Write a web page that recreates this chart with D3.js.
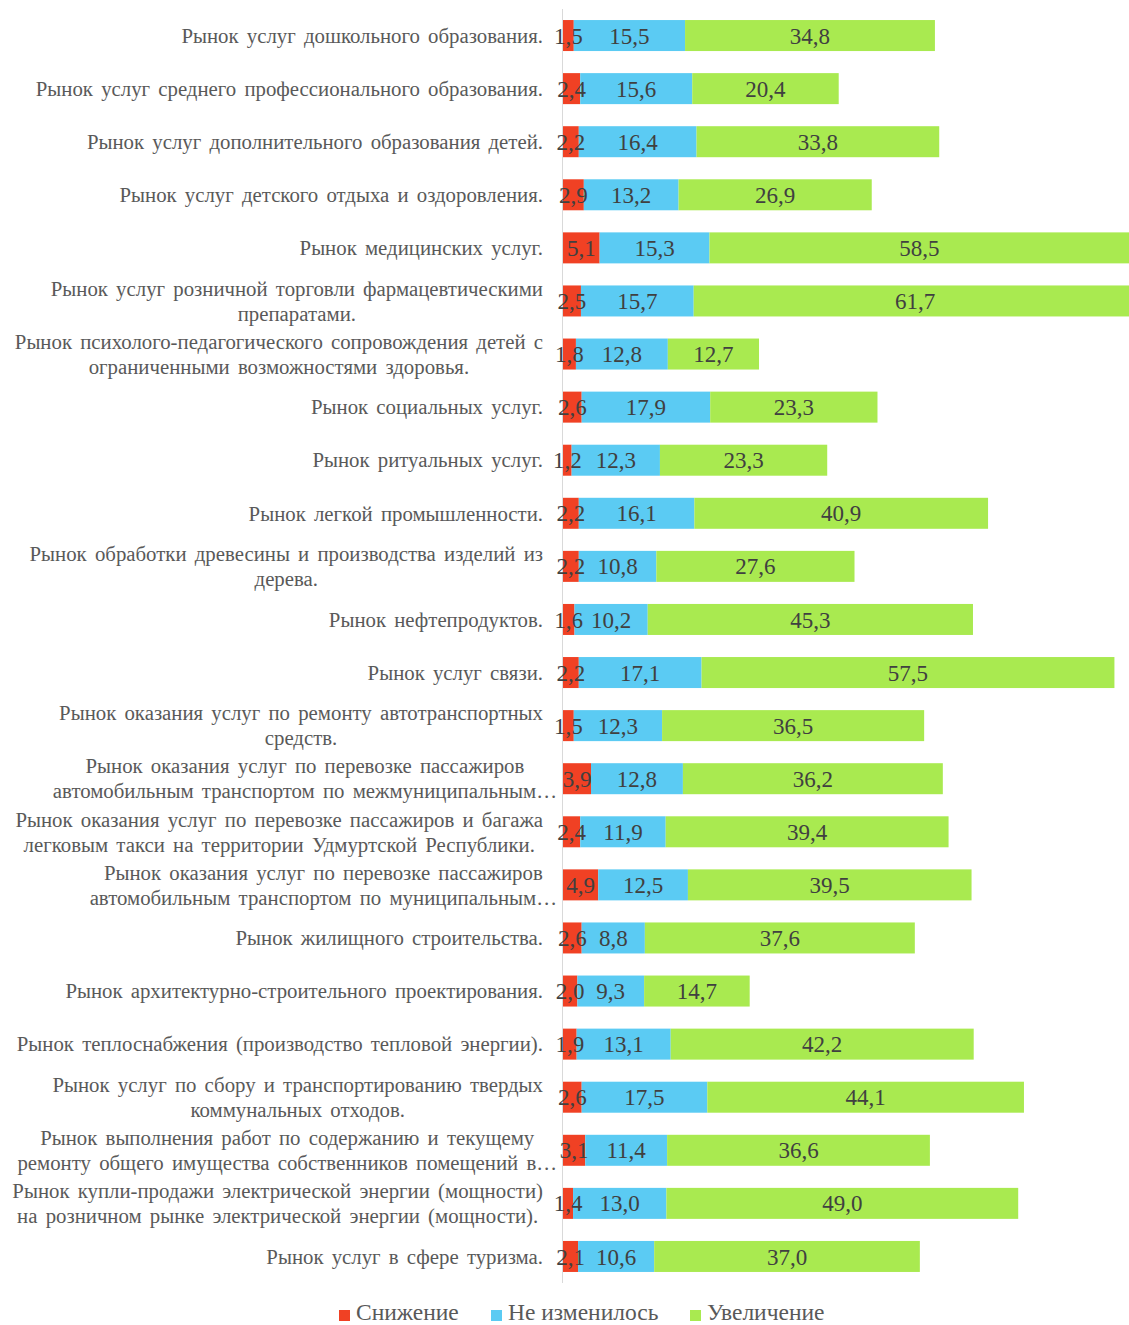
<!DOCTYPE html>
<html><head><meta charset="utf-8">
<script src="https://cdn.jsdelivr.net/npm/d3@7"></script>
<style>
html,body{margin:0;padding:0;background:#fff;}
svg{display:block;}
text{font-family:"Liberation Serif";}
</style></head>
<body>
<script>
const categories = [
  ["Рынок услуг дошкольного образования."],
  ["Рынок услуг среднего профессионального образования."],
  ["Рынок услуг дополнительного образования детей."],
  ["Рынок услуг детского отдыха и оздоровления."],
  ["Рынок медицинских услуг."],
  ["Рынок услуг розничной торговли фармацевтическими", "препаратами."],
  ["Рынок психолого-педагогического сопровождения детей с", "ограниченными возможностями здоровья."],
  ["Рынок социальных услуг."],
  ["Рынок ритуальных услуг."],
  ["Рынок легкой промышленности."],
  ["Рынок обработки древесины и производства изделий из", "дерева."],
  ["Рынок нефтепродуктов."],
  ["Рынок услуг связи."],
  ["Рынок оказания услуг по ремонту автотранспортных", "средств."],
  ["Рынок оказания услуг по перевозке пассажиров", "автомобильным транспортом по межмуниципальным…"],
  ["Рынок оказания услуг по перевозке пассажиров и багажа", "легковым такси на территории Удмуртской Республики."],
  ["Рынок оказания услуг по перевозке пассажиров", "автомобильным транспортом по муниципальным…"],
  ["Рынок жилищного строительства."],
  ["Рынок архитектурно-строительного проектирования."],
  ["Рынок теплоснабжения (производство тепловой энергии)."],
  ["Рынок услуг по сбору и транспортированию твердых", "коммунальных отходов."],
  ["Рынок выполнения работ по содержанию и текущему", "ремонту общего имущества собственников помещений в…"],
  ["Рынок купли-продажи электрической энергии (мощности)", "на розничном рынке электрической энергии (мощности)."],
  ["Рынок услуг в сфере туризма."]
];
const seriesNames = ["Снижение", "Не изменилось", "Увеличение"];
const decrease  = [1.5, 2.4, 2.2, 2.9, 5.1, 2.5, 1.8, 2.6, 1.2, 2.2, 2.2, 1.6, 2.2, 1.5, 3.9, 2.4, 4.9, 2.6, 2.0, 1.9, 2.6, 3.1, 1.4, 2.1];
const unchanged = [15.5, 15.6, 16.4, 13.2, 15.3, 15.7, 12.8, 17.9, 12.3, 16.1, 10.8, 10.2, 17.1, 12.3, 12.8, 11.9, 12.5, 8.8, 9.3, 13.1, 17.5, 11.4, 13.0, 10.6];
const increase  = [34.8, 20.4, 33.8, 26.9, 58.5, 61.7, 12.7, 23.3, 23.3, 40.9, 27.6, 45.3, 57.5, 36.5, 36.2, 39.4, 39.5, 37.6, 14.7, 42.2, 44.1, 36.6, 49.0, 37.0];
const colors = ["#F04124", "#5BCBF3", "#A9EA50"];

const W = 1129, H = 1325;
const svg = d3.select("body").append("svg").attr("width", W).attr("height", H);

const rows = categories.map((c, i) => ({i, lines: c, vals: [decrease[i], unchanged[i], increase[i]]}));

const x = d3.scaleLinear().domain([0, 80]).range([563, 563 + 80 * 7.18]);
const y = d3.scaleBand().domain(rows.map(r => r.i)).range([9, 1283]).paddingInner(0.416).paddingOuter(0.208);

svg.append("line").attr("x1", 562.5).attr("x2", 562.5).attr("y1", 9).attr("y2", 1283)
  .attr("stroke", "#D9D9D9").attr("stroke-width", 1);

const stack = d3.stack().keys([0, 1, 2]).value((d, k) => d.vals[k]);
const layers = stack(rows);

const g = svg.append("g");
layers.forEach((layer, k) => {
  g.selectAll(null).data(layer).enter().append("rect")
    .attr("x", d => x(d[0]))
    .attr("width", d => x(d[1]) - x(d[0]))
    .attr("y", d => y(d.data.i))
    .attr("height", y.bandwidth())
    .attr("fill", colors[k]);
});
const fmt = v => d3.format(".1f")(v).replace(".", ",");
layers.forEach((layer, k) => {
  g.selectAll(null).data(layer).enter().append("text")
    .attr("x", d => (x(d[0]) + x(d[1])) / 2)
    .attr("y", d => y(d.data.i) + y.bandwidth() / 2)
    .attr("dy", "0.35em")
    .attr("text-anchor", "middle")
    .attr("font-size", 23)
    .attr("fill", "#404040")
    .text(d => fmt(d.data.vals[k]));
});

const LFS = 20.8, LH = 25, RIGHT = 543;
rows.forEach(r => {
  const cy = y(r.i) + y.bandwidth() / 2;
  const n = r.lines.length;
  const tg = svg.append("g");
  const texts = r.lines.map((t, j) => tg.append("text")
    .attr("font-size", LFS)
    .attr("fill", "#595959")
    .attr("word-spacing", 3)
    .attr("y", cy + (j - (n - 1) / 2) * LH)
    .attr("dy", "0.35em")
    .attr("text-anchor", "middle")
    .text(t));
  let wmax = 0;
  texts.forEach((t, j) => {
    let w = t.node().getComputedTextLength();
    if (r.lines[j].endsWith("…")) w -= 28;
    wmax = Math.max(wmax, w);
  });
  texts.forEach(t => t.attr("x", RIGHT - wmax / 2));
});

const legX = [339, 491, 690];
const leg = svg.append("g");
seriesNames.forEach((s, k) => {
  leg.append("rect").attr("x", legX[k]).attr("y", 1310).attr("width", 11).attr("height", 11).attr("fill", colors[k]);
  leg.append("text").attr("x", legX[k] + 17).attr("y", 1320)
    .attr("font-size", 23.5).attr("fill", "#595959").text(s);
});
</script>
</body></html>
